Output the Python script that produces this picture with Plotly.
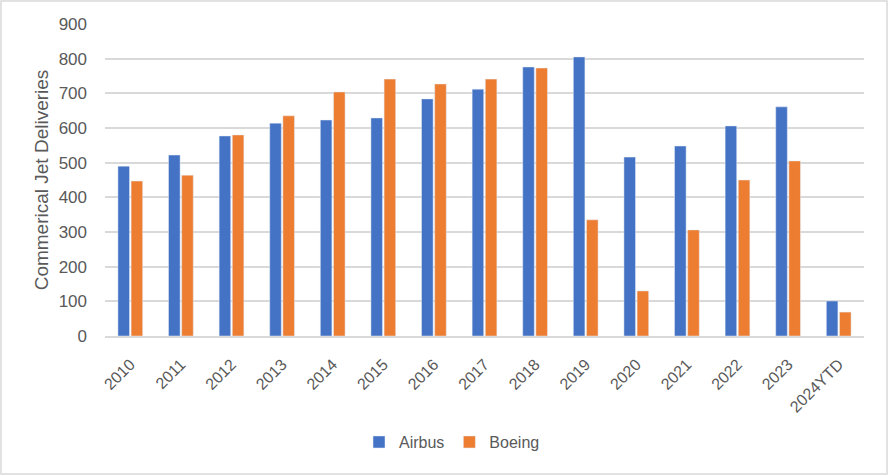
import plotly.graph_objects as go

years = ["2010", "2011", "2012", "2013", "2014", "2015", "2016", "2017",
         "2018", "2019", "2020", "2021", "2022", "2023", "2024YTD"]
airbus = [490, 522, 577, 614, 623, 629, 684, 712, 776, 805, 516, 548, 606, 661, 101]
boeing = [447, 464, 580, 635, 704, 741, 727, 741, 773, 335, 130, 306, 450, 505, 69]

W, H = 888, 475
ml, mr, mt, mb = 105, 24, 24, 139
pw, ph = W - ml - mr, H - mt - mb

fig = go.Figure()
fig.add_trace(go.Bar(x=years, y=airbus, name="Airbus", marker_color="#4472C4"))
fig.add_trace(go.Bar(x=years, y=boeing, name="Boeing", marker_color="#ED7D31"))

font = dict(family="Liberation Sans, Arial, sans-serif", color="#595959", size=16)

fig.update_layout(
    width=W, height=H,
    margin=dict(l=ml, r=mr, t=mt, b=mb),
    paper_bgcolor="white", plot_bgcolor="white",
    font=font,
    barmode="group", bargap=0.48, bargroupgap=0.12,
    xaxis=dict(tickangle=-45, showgrid=False, showline=True, linecolor="#d9d9d9",
               linewidth=1.5, ticks="", tickfont=dict(size=16), ticklabelstandoff=11),
    yaxis=dict(range=[0, 900], dtick=100, showgrid=True, gridcolor="#d9d9d9",
               gridwidth=1.5, zeroline=False, ticks="", tickfont=dict(size=17),
               ticklabelstandoff=17,
               title=dict(text="Commerical Jet Deliveries", font=dict(size=19), standoff=4)),
    legend=dict(orientation="h", x=(452 - ml) / pw, xanchor="center", y=-0.34,
                yanchor="middle", font=dict(size=16), itemwidth=30),
    shapes=[dict(type="rect", xref="paper", yref="paper",
                 x0=-(ml - 1) / pw, x1=1 + (mr - 1) / pw,
                 y0=-(mb - 1) / ph, y1=1 + (mt - 1) / ph,
                 line=dict(color="#d9d9d9", width=1.5))],
)

fig.write_html("out.html", config={"displayModeBar": False},
               post_script="document.body.style.margin='0';")
